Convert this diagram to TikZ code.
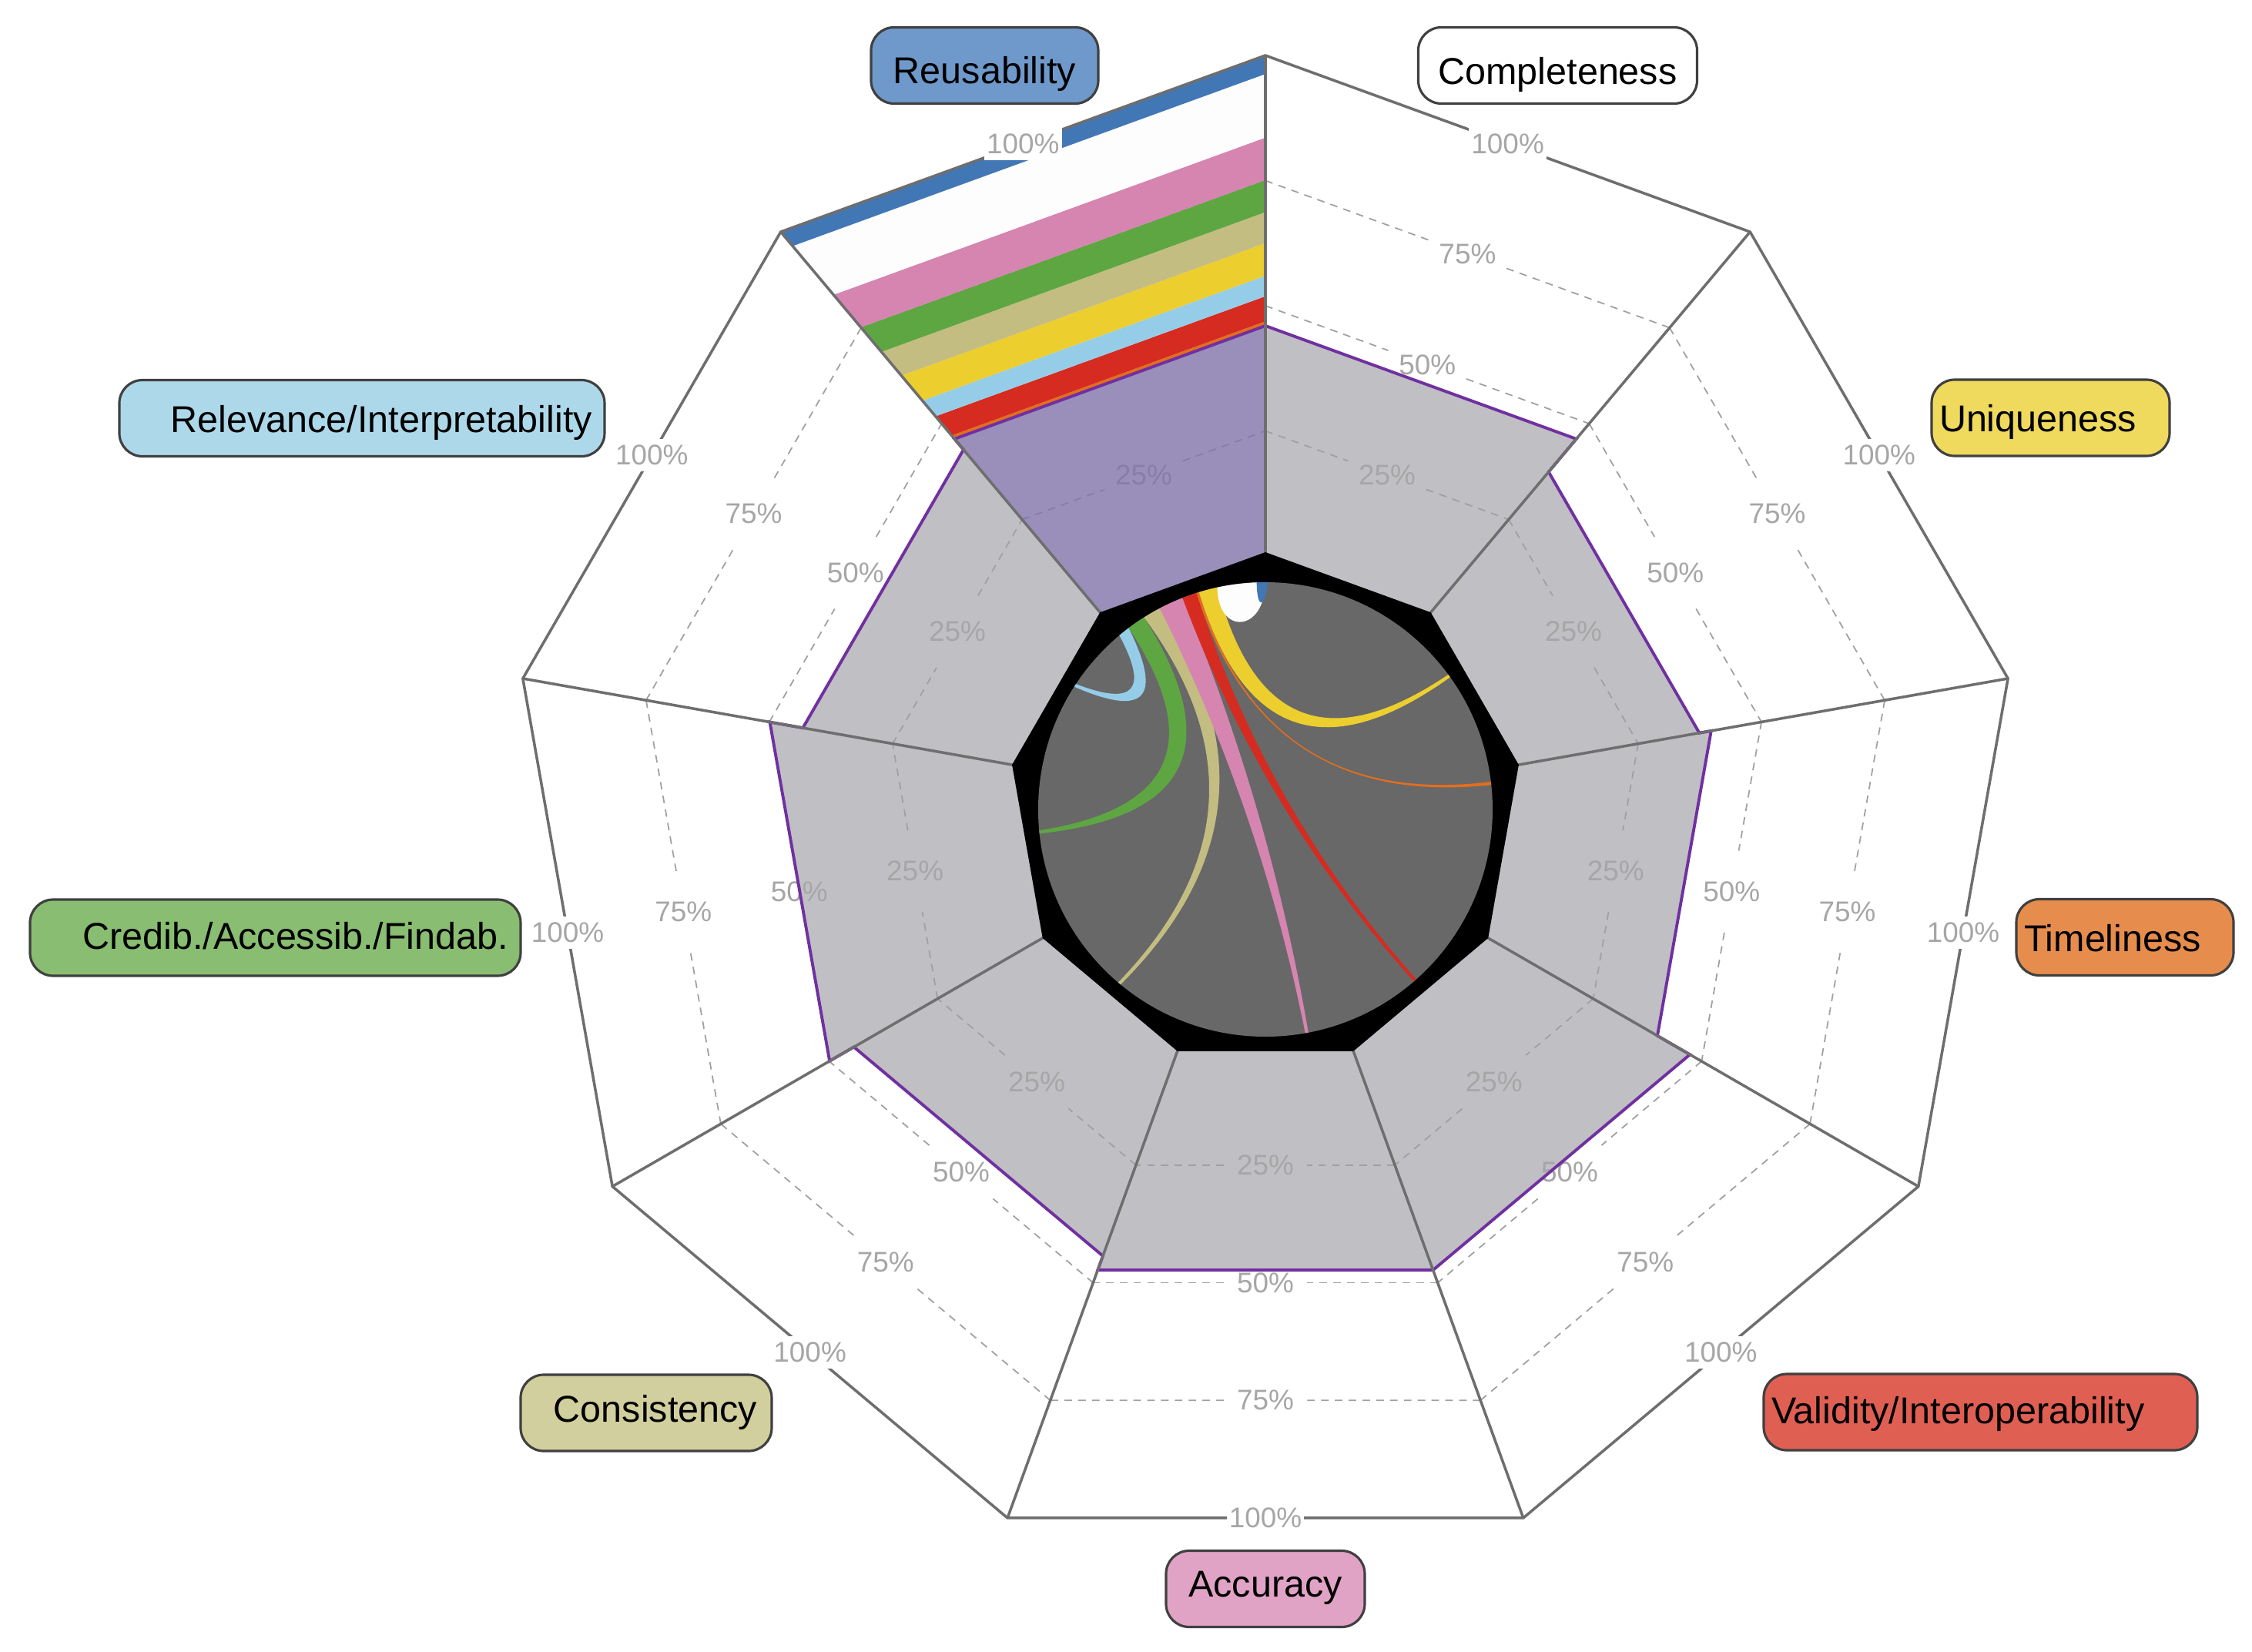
\documentclass[tikz,border=0pt]{standalone}
\usepackage{fontspec}
\setmainfont{Liberation Sans}
\usetikzlibrary{calc}

\definecolor{valgray}{HTML}{C0BFC4}
\definecolor{valpurple}{HTML}{7030A0}
\definecolor{reusefill}{RGB}{129,115,171}
\definecolor{spokegray}{HTML}{6E6E6E}
\definecolor{dashgray}{HTML}{A0A0A0}
\definecolor{pctgray}{HTML}{A6A6A6}
\definecolor{centergray}{HTML}{686868}
\definecolor{boxgray}{HTML}{404040}
% band / ribbon colours
\definecolor{bandblue}{HTML}{4277B6}
\definecolor{bandwhite}{HTML}{FDFDFD}
\definecolor{bandpink}{HTML}{D585B0}
\definecolor{bandgreen}{HTML}{5EA642}
\definecolor{bandkhaki}{HTML}{C3BD82}
\definecolor{bandyellow}{HTML}{ECCE2E}
\definecolor{bandlblue}{HTML}{95CDE8}
\definecolor{bandred}{HTML}{D62B20}
\definecolor{bandorange}{HTML}{E46E1C}
% label colours
\definecolor{labreuse}{HTML}{6F99CB}
\definecolor{labunique}{HTML}{F0DA5E}
\definecolor{labtime}{HTML}{E68D4E}
\definecolor{labvalid}{HTML}{E05F53}
\definecolor{labacc}{HTML}{E0A3C6}
\definecolor{labcons}{HTML}{D2CF9E}
\definecolor{labcred}{HTML}{88BD72}
\definecolor{labrel}{HTML}{ADD8EA}

\newcommand\Rin{3.29}
\newcommand\Rd{6.50}
\newcommand\Rout{9.79}
\newcommand\Rc{2.95}

% ribbon: colour, start angle, end angle, target angle, control of first edge, control of second edge
\newcommand\chordband[6]{%
  \fill[#1] (#2:\Rc) .. controls ($(#2:\Rc)!2/3!(#5)$) and ($({#4-0.4}:\Rc)!2/3!(#5)$) .. ({#4-0.4}:\Rc)
    -- ({#4+0.4}:\Rc) .. controls ($({#4+0.4}:\Rc)!2/3!(#6)$) and ($(#3:\Rc)!2/3!(#6)$) .. (#3:\Rc)
    arc[start angle=#3, end angle=#2, radius=\Rc] -- cycle;}
% self loop: colour, start angle, end angle, two controls
\newcommand\selfband[5]{%
  \fill[#1] (#2:\Rc) .. controls (#4) and (#5) .. (#3:\Rc)
    arc[start angle=#3, end angle=#2, radius=\Rc] -- cycle;}

\begin{document}
\begin{tikzpicture}[
  spoke/.style={draw=spokegray, line width=1pt, line join=miter},
  levelgrid/.style={draw=dashgray, line width=0.5pt, dash pattern=on 2.8pt off 2.3pt},
  valline/.style={draw=valpurple, line width=1.1pt, line join=miter},
  pct/.style={text=pctgray, font=\fontsize{10.5}{12}\selectfont, inner xsep=0.03cm, inner ysep=0.08cm},
  catbox/.style={draw=boxgray, line width=0.9pt, rounded corners=0.3cm, minimum height=0.99cm,
    inner xsep=0.1cm, inner ysep=0pt, text height=0.37cm, text depth=0.01cm, font=\fontsize{13.8}{16}\selectfont},
]
\path[use as bounding box, fill=white] (-16.43,-10.93) rectangle (12.81,10.51);

% Values
\foreach \v [count=\k from 0] in {0.46,0.374,0.398,0.473,0.473,0.443,0.499,0.432}
  \fill[valgray] ({90-40*\k}:\Rin) -- ({90-40*\k}:{\Rin+\Rd*\v}) -- ({50-40*\k}:{\Rin+\Rd*\v}) -- ({50-40*\k}:\Rin) -- cycle;

% Levels
\foreach \L in {0.25,0.5,0.75} \foreach \k in {0,...,8} {
  \coordinate (ga) at ({90-40*\k}:{\Rin+\Rd*\L});
  \coordinate (gb) at ({50-40*\k}:{\Rin+\Rd*\L});
  \coordinate (gm) at ($(ga)!0.5!(gb)$);
  \draw[levelgrid] (ga) -- ($(gm)!0.54cm!(ga)$);
  \draw[levelgrid] ($(gm)!0.54cm!(gb)$) -- (gb);
}
\foreach \L/\t in {0.25/25,0.5/50,0.75/75} \foreach \k in {0,...,8}
  \node[pct] (pct\t-\k) at ({70-40*\k}:{(\Rin+\Rd*\L)*cos(20)}) {\t\%};

% Reusability stack
\fill[reusefill, fill opacity=0.8] (90:\Rin) -- (90:{\Rin+\Rd*0.46}) -- (130:{\Rin+\Rd*0.46}) -- (130:\Rin) -- cycle;
\foreach \c/\a/\b in {bandorange/0.46/0.469, bandred/0.469/0.519, bandlblue/0.519/0.56, bandyellow/0.56/0.625,
    bandkhaki/0.625/0.687, bandgreen/0.687/0.751, bandpink/0.751/0.836, bandwhite/0.836/0.963, bandblue/0.963/1}
  \fill[\c] (90:{\Rin+\Rd*\a}) -- (130:{\Rin+\Rd*\a}) -- (130:{\Rin+\Rd*\b}) -- (90:{\Rin+\Rd*\b}) -- cycle;

\draw[valline] (90:{\Rin+\Rd*0.46}) \foreach \v [count=\k from 0] in {0.46,0.374,0.398,0.473,0.473,0.443,0.499,0.432,0.46}
  { -- ({90-40*\k}:{\Rin+\Rd*\v}) -- ({50-40*\k}:{\Rin+\Rd*\v}) } -- cycle;

% Axes
\foreach \k in {0,...,8}
  \draw[spoke] ({90-40*\k}:\Rin) -- ({90-40*\k}:\Rout);
\draw[spoke] (90:\Rout) \foreach \k in {1,...,8} { -- ({90-40*\k}:\Rout) } -- cycle;

% Centre
\fill[black] (90:3.34) \foreach \k in {1,...,8} { -- ({90-40*\k}:3.34) } -- cycle;
\fill[centergray] (0,0) circle (\Rc);
\chordband{bandorange}{107.7}{107.0}{6.6}{0,0}{0,0}
\chordband{bandlblue}{130.0}{127.0}{146.9}{138:1.78}{138:1.48}
\chordband{bandgreen}{127.0}{122.3}{185.7}{156:0.34}{0,0}
\chordband{bandkhaki}{122.3}{117.7}{230}{0.27,0.01}{0.4,0}
\chordband{bandpink}{117.7}{111.4}{280.5}{199:0.06}{16:0.06}
\chordband{bandred}{111.4}{107.7}{311.2}{211:0.05}{0,0}
\chordband{bandyellow}{107.0}{102.2}{36}{0,0}{69:0.22}
\selfband{bandwhite}{102.2}{90.1}{-0.62,2.25}{0,2.3}
\selfband{bandblue}{92.2}{89.4}{-0.11,2.6}{-0.01,2.6}

\foreach \k in {0,...,8}
  \node[pct, fill=white] (pct100-\k) at ({70-40*\k}:{\Rout*cos(20)}) {100\%};

% Labels
\node[catbox, fill=labreuse, text width=2.75cm, align=center, text height=0.49cm] (reusability) at (-3.645,9.66) {Reusability};
\node[catbox, fill=white, text width=3.42cm, align=center, text height=0.51cm] (completeness) at (3.795,9.66) {Completeness};
\node[catbox, fill=labunique, text width=2.89cm, align=left] (uniqueness) at (10.195,5.085) {Uniqueness};
\node[catbox, fill=labtime, text width=2.62cm, align=left] (timeliness) at (11.16,-1.66) {Timeliness};
\node[catbox, fill=labvalid, text width=5.43cm, align=left, text height=0.31cm] (validity) at (9.285,-7.825) {Validity/Interoperability};
\node[catbox, fill=labacc, text width=2.38cm, align=center, text height=0.21cm] (accuracy) at (0,-10.12) {Accuracy};
\node[catbox, fill=labcons, minimum width=3.26cm, text width=2.88cm, align=right, text height=0.25cm] (consistency) at (-8.04,-7.835) {Consistency};
\node[catbox, fill=labcred, minimum width=6.37cm, text width=6.05cm, align=right, text height=0.31cm] (credibility) at (-12.855,-1.665) {Credib./Accessib./Findab.};
\node[catbox, fill=labrel, minimum width=6.30cm, text width=5.98cm, align=right] (relevance) at (-11.73,5.08) {Relevance/Interpretability};
\end{tikzpicture}
\end{document}
